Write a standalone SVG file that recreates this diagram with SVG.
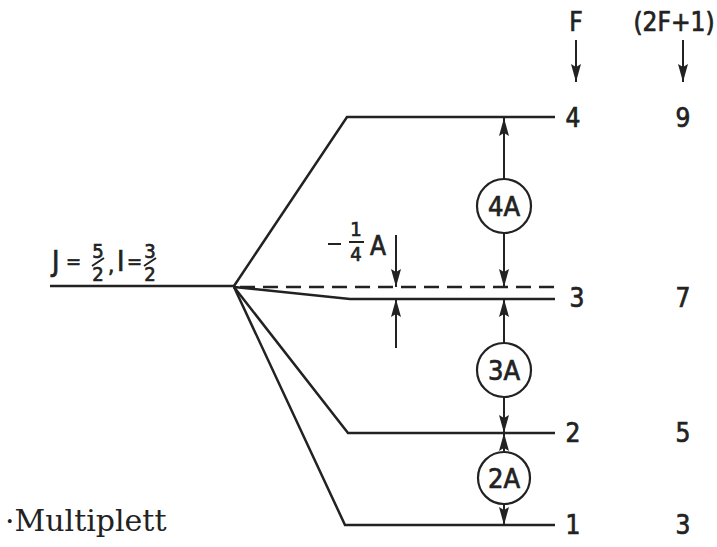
<svg xmlns="http://www.w3.org/2000/svg" width="717" height="547" viewBox="0 0 717 547">
  <defs>
    <marker id="ah" viewBox="0 0 18 10" refX="18" refY="5" markerWidth="18" markerHeight="10" orient="auto" markerUnits="userSpaceOnUse">
      <path d="M0,0 L18,5 L0,10 L3,5 z" fill="#222"/>
    </marker>
  </defs>
  <style>
    .lvl { stroke: #222; stroke-width: 2.5; fill: none; }
    .thin { stroke: #222; stroke-width: 2; fill: none; }
    .dash { stroke: #222; stroke-width: 2.5; fill: none; stroke-dasharray: 15 8; }
    .arr { stroke: #222; stroke-width: 2; fill: none; marker-end: url(#ah); }
    .circ { stroke: #222; stroke-width: 2.2; fill: #fff; }
    .t { font-family: "DejaVu Sans Condensed", "Liberation Sans Narrow", "DejaVu Sans", sans-serif; fill: #222; stroke: #222; stroke-width: 0.7; }
    .num { font-size: 26px; }
    .ct { font-size: 27px; text-anchor: middle; }
    .sm { font-size: 20px; text-anchor: middle; }
    .serif { font-family: "DejaVu Serif", "Liberation Serif", serif; fill: #222; font-size: 30px; }
  </style>
  <rect width="717" height="547" fill="#fff"/>

  <g id="header">
    <text class="t num" x="576" y="31" text-anchor="middle">F</text>
    <text class="t num" x="674" y="31" text-anchor="middle">(2F+1)</text>
  </g>

  <g id="unperturbed">
    <line class="lvl" x1="50" y1="286" x2="234" y2="286"/>
    <text class="t" x="52" y="271" font-size="28">J</text>
    <text class="t" x="66" y="268" font-size="20">=</text>
    <text class="t sm" x="98" y="258">5</text>
    <line class="thin" x1="92" y1="266" x2="104" y2="258" stroke-width="1.6"/>
    <text class="t sm" x="98" y="281">2</text>
    <text class="t" x="108" y="273" font-size="22">,</text>
    <text class="t" x="117" y="271" font-size="28">I</text>
    <text class="t" x="127" y="268" font-size="20">=</text>
    <text class="t sm" x="150" y="258">3</text>
    <line class="thin" x1="144" y1="266" x2="156" y2="258" stroke-width="1.6"/>
    <text class="t sm" x="150" y="281">2</text>
  </g>

  <g id="level-F4">
    <polyline class="lvl" points="234,286 347,117 555,117"/>
    <text class="t num" x="573" y="127" text-anchor="middle">4</text>
    <text class="t num" x="683" y="127" text-anchor="middle">9</text>
  </g>

  <g id="level-F3">
    <line class="dash" x1="240" y1="287" x2="555" y2="287"/>
    <polyline class="lvl" points="234,287 350,299 555,299"/>
    <text class="t num" x="577" y="307" text-anchor="middle">3</text>
    <text class="t num" x="683" y="307" text-anchor="middle">7</text>
  </g>

  <g id="level-F2">
    <polyline class="lvl" points="234,287 348,433 555,433"/>
    <text class="t num" x="573" y="442" text-anchor="middle">2</text>
    <text class="t num" x="683" y="442" text-anchor="middle">5</text>
  </g>

  <g id="level-F1">
    <polyline class="lvl" points="234,287 345,525 555,525"/>
    <text class="t num" x="573" y="534" text-anchor="middle">1</text>
    <text class="t num" x="683" y="534" text-anchor="middle">3</text>
  </g>

  <g id="shift-label">
    <line class="thin" x1="328" y1="244" x2="341" y2="244"/>
    <text class="t sm" x="356" y="236">1</text>
    <line class="thin" x1="349" y1="242" x2="364" y2="242"/>
    <text class="t sm" x="356" y="261">4</text>
    <text class="t" x="370" y="255" font-size="26">A</text>
  </g>

  <g id="node-4A">
    <circle class="circ" cx="504" cy="206" r="27"/>
    <text class="t ct" x="504" y="216">4A</text>
  </g>
  <g id="node-3A">
    <circle class="circ" cx="504" cy="370" r="27"/>
    <text class="t ct" x="504" y="380">3A</text>
  </g>
  <g id="node-2A">
    <circle class="circ" cx="504" cy="478" r="26"/>
    <text class="t ct" x="504" y="488">2A</text>
  </g>

  <g id="connectors">
    <line class="arr" x1="576" y1="40" x2="576" y2="82"/>
    <line class="arr" x1="683" y1="40" x2="683" y2="82"/>
    <line class="arr" x1="504" y1="179" x2="504" y2="118"/>
    <line class="arr" x1="504" y1="233" x2="504" y2="287"/>
    <line class="arr" x1="504" y1="343" x2="504" y2="299"/>
    <line class="arr" x1="504" y1="397" x2="504" y2="433"/>
    <line class="arr" x1="504" y1="452" x2="504" y2="433"/>
    <line class="arr" x1="504" y1="504" x2="504" y2="525"/>
    <line class="arr" x1="396" y1="235" x2="396" y2="287"/>
    <line class="arr" x1="396" y1="348" x2="396" y2="299"/>
  </g>

  <g id="caption">
    <text class="serif" x="5" y="531">·Multiplett</text>
  </g>
</svg>
